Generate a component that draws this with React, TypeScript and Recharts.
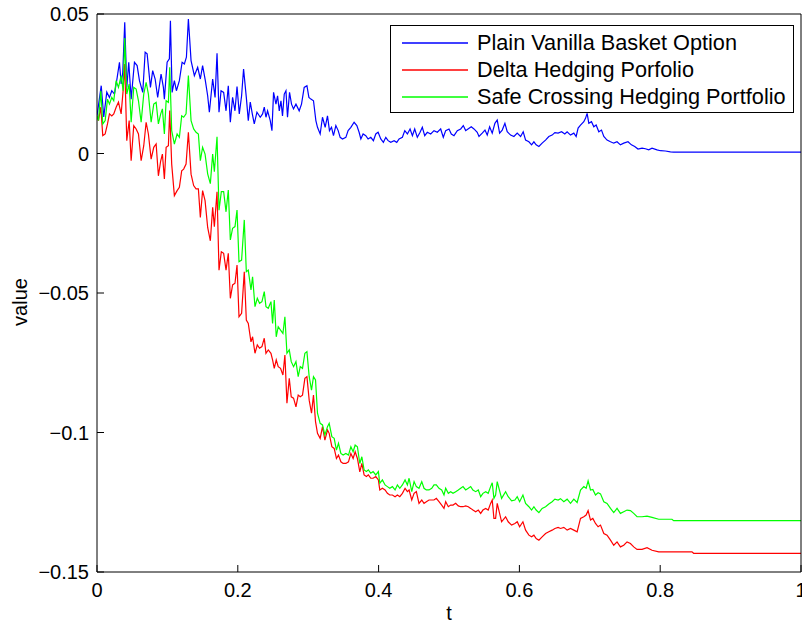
import React from 'react';
import { LineChart, Line, XAxis, YAxis, Label } from 'recharts';

const tTicks = [0, 0.2, 0.4, 0.6, 0.8, 1];
const valueTicks = [-0.15, -0.1, -0.05, 0, 0.05];

const seriesNames = ['Plain Vanilla Basket Option', 'Delta Hedging Porfolio', 'Safe Crossing Hedging Portfolio'];
const seriesColors = ['#0000ff', '#ff0000', '#00ff00'];

// basket option value along the path
const optionT = [
  0, 0.006, 0.0096, 0.0139, 0.0177, 0.021, 0.0248, 0.0287, 0.0319, 0.0343,
  0.0366, 0.0394, 0.0423, 0.0451, 0.0485, 0.0532, 0.057, 0.0603, 0.065, 0.0684,
  0.0712, 0.0759, 0.0791, 0.0826, 0.0862, 0.091, 0.0943, 0.0957, 0.0996, 0.1028,
  0.1043, 0.1067, 0.1099, 0.1128, 0.117, 0.1209, 0.1241, 0.127, 0.1298, 0.1336,
  0.1383, 0.143, 0.1468, 0.15, 0.1539, 0.1572, 0.1596, 0.1643, 0.1677, 0.1705,
  0.1733, 0.1762, 0.1799, 0.1833, 0.1865, 0.1894, 0.1926, 0.196, 0.1989, 0.2021,
  0.2054, 0.2082, 0.2121, 0.2149, 0.2177, 0.2206, 0.2234, 0.2272, 0.2319, 0.2352,
  0.2376, 0.24, 0.2423, 0.2461, 0.2485, 0.2508, 0.2542, 0.2565, 0.2589, 0.2613,
  0.2635, 0.266, 0.2684, 0.2706, 0.2735, 0.2763, 0.2791, 0.2826, 0.2872, 0.2905,
  0.2943, 0.2982, 0.301, 0.3038, 0.3075, 0.3109, 0.3132, 0.317, 0.3203, 0.3241,
  0.3274, 0.3302, 0.3331, 0.3359, 0.3393, 0.3426, 0.3454, 0.3487, 0.3535, 0.3567,
  0.3606, 0.3652, 0.3691, 0.3723, 0.3748, 0.378, 0.3818, 0.3851, 0.3889, 0.3926,
  0.396, 0.3993, 0.4031, 0.4068, 0.4102, 0.4135, 0.4173, 0.422, 0.4258, 0.4291,
  0.4338, 0.4372, 0.4409, 0.4447, 0.448, 0.4513, 0.455, 0.4589, 0.4621, 0.4655,
  0.4692, 0.474, 0.4787, 0.4834, 0.4882, 0.4919, 0.4953, 0.5, 0.5033, 0.5071,
  0.5118, 0.5166, 0.5203, 0.5237, 0.527, 0.5316, 0.5355, 0.5401, 0.5426, 0.5472,
  0.5511, 0.5543, 0.5577, 0.5614, 0.5652, 0.5685, 0.5719, 0.5756, 0.5794, 0.5827,
  0.5875, 0.5922, 0.5969, 0.6017, 0.6054, 0.6088, 0.6135, 0.6173, 0.6206, 0.6238,
  0.6277, 0.6323, 0.6371, 0.6418, 0.6465, 0.6504, 0.655, 0.6599, 0.6645, 0.6678,
  0.6726, 0.6773, 0.6806, 0.6834, 0.6868, 0.6915, 0.6939, 0.6962, 0.6986, 0.7024,
  0.7057, 0.709, 0.7128, 0.7166, 0.7199, 0.7245, 0.7294, 0.734, 0.7387, 0.7435,
  0.7482, 0.7543, 0.7591, 0.7638, 0.7685, 0.7742, 0.779, 0.7837, 0.7884, 0.7955,
  0.8003, 0.8074, 0.8145, 0.8191, 1,
];
const optionV = [
  0.0135, 0.0243, 0.0131, 0.022, 0.0201, 0.0225, 0.0213, 0.0273, 0.0327, 0.0249,
  0.0291, 0.047, 0.0237, 0.0327, 0.0195, 0.0327, 0.0315, 0.0261, 0.0219, 0.0363,
  0.0357, 0.0237, 0.0297, 0.0267, 0.0201, 0.0285, 0.0237, 0.0195, 0.0327, 0.0339,
  0.0476, 0.0219, 0.0261, 0.0225, 0.0261, 0.0327, 0.0321, 0.0345, 0.0482, 0.0333,
  0.0279, 0.0309, 0.0267, 0.0315, 0.0261, 0.0207, 0.0148, 0.0267, 0.0201, 0.0359,
  0.0148, 0.0225, 0.0219, 0.0153, 0.0243, 0.0112, 0.0201, 0.0153, 0.024, 0.0142,
  0.0207, 0.0303, 0.0201, 0.0118, 0.0184, 0.0142, 0.0106, 0.0148, 0.013, 0.0142,
  0.0166, 0.013, 0.0153, 0.0118, 0.0082, 0.0219, 0.0177, 0.0207, 0.0153, 0.0189,
  0.0135, 0.0213, 0.0225, 0.013, 0.0219, 0.0177, 0.016, 0.0177, 0.0153, 0.0177,
  0.0237, 0.0243, 0.0201, 0.0195, 0.0189, 0.0118, 0.0094, 0.007, 0.013, 0.0094,
  0.0135, 0.0082, 0.0094, 0.0064, 0.01, 0.0082, 0.0058, 0.0052, 0.0058, 0.0082,
  0.0094, 0.0112, 0.01, 0.0076, 0.0052, 0.007, 0.0064, 0.0052, 0.0058, 0.0046,
  0.007, 0.0076, 0.0052, 0.004, 0.0058, 0.0046, 0.004, 0.0046, 0.004, 0.0052,
  0.0058, 0.0082, 0.007, 0.0088, 0.0064, 0.0088, 0.0058, 0.0076, 0.0094, 0.0064,
  0.0076, 0.007, 0.0082, 0.0076, 0.0088, 0.0058, 0.0082, 0.0088, 0.007, 0.0064,
  0.0082, 0.0088, 0.01, 0.0082, 0.0088, 0.0096, 0.0088, 0.0076, 0.0061, 0.0073,
  0.0084, 0.0066, 0.0096, 0.0073, 0.0108, 0.012, 0.0073, 0.0084, 0.0108, 0.0078,
  0.0066, 0.0061, 0.0073, 0.0061, 0.0078, 0.0048, 0.0042, 0.0031, 0.0042, 0.0031,
  0.0025, 0.0037, 0.0048, 0.0061, 0.0066, 0.0075, 0.0073, 0.0078, 0.007, 0.0078,
  0.0066, 0.0073, 0.0061, 0.0091, 0.0102, 0.0114, 0.0126, 0.0144, 0.0108, 0.0114,
  0.0096, 0.0102, 0.0078, 0.0084, 0.0061, 0.0048, 0.0042, 0.0037, 0.0042, 0.0031,
  0.0037, 0.0042, 0.0031, 0.0025, 0.0016, 0.0019, 0.0017, 0.0013, 0.0019, 0.0013,
  0.001, 0.0009, 0.0006, 0.0005, 0.0005,
];

// both hedging portfolios are sampled on the same dates
const hedgeT = [
  0, 0.0021, 0.0054, 0.0082, 0.0116, 0.0149, 0.0177, 0.021, 0.0238, 0.0272,
  0.0305, 0.0343, 0.0371, 0.0394, 0.0423, 0.0457, 0.0485, 0.0522, 0.0556, 0.0589,
  0.0627, 0.0664, 0.0698, 0.073, 0.0769, 0.0806, 0.084, 0.0872, 0.0905, 0.0929,
  0.0957, 0.0982, 0.1014, 0.1033, 0.1061, 0.1099, 0.1138, 0.117, 0.1203, 0.1231,
  0.1265, 0.1298, 0.1336, 0.1373, 0.1407, 0.144, 0.1468, 0.15, 0.1535, 0.1572,
  0.161, 0.1643, 0.1667, 0.1705, 0.1733, 0.1766, 0.1799, 0.1833, 0.1865, 0.1894,
  0.1926, 0.196, 0.1989, 0.2017, 0.2054, 0.2092, 0.2121, 0.2149, 0.2187, 0.221,
  0.2244, 0.2277, 0.2309, 0.2343, 0.2376, 0.24, 0.2433, 0.2471, 0.2494, 0.2518,
  0.2546, 0.2574, 0.2607, 0.2641, 0.2669, 0.2698, 0.2731, 0.2759, 0.2792, 0.2826,
  0.2858, 0.2887, 0.2919, 0.2953, 0.2982, 0.3014, 0.3047, 0.3075, 0.3104, 0.3132,
  0.317, 0.3203, 0.3237, 0.3274, 0.3298, 0.3336, 0.3369, 0.3401, 0.343, 0.3464,
  0.3496, 0.3535, 0.3572, 0.3606, 0.3638, 0.3667, 0.3699, 0.3733, 0.3762, 0.3794,
  0.3827, 0.3855, 0.3889, 0.3922, 0.396, 0.3997, 0.4017, 0.4054, 0.4092, 0.4125,
  0.4159, 0.4196, 0.4234, 0.4267, 0.4301, 0.4338, 0.4376, 0.4409, 0.4433, 0.4471,
  0.4504, 0.4536, 0.4574, 0.4613, 0.4645, 0.4678, 0.4716, 0.4755, 0.4787, 0.482,
  0.4858, 0.4896, 0.4929, 0.4953, 0.499, 0.5024, 0.5057, 0.5095, 0.5132, 0.5166,
  0.5199, 0.5237, 0.5274, 0.5308, 0.534, 0.5379, 0.5416, 0.545, 0.5482, 0.5521,
  0.5557, 0.5591, 0.5614, 0.5638, 0.5662, 0.5685, 0.5747, 0.5804, 0.5841, 0.5889,
  0.5936, 0.5969, 0.6003, 0.605, 0.6088, 0.6135, 0.6173, 0.6206, 0.6238, 0.6277,
  0.6323, 0.6372, 0.6418, 0.6465, 0.6504, 0.655, 0.6584, 0.6631, 0.6678, 0.6726,
  0.6773, 0.682, 0.6868, 0.6915, 0.6948, 0.6976, 0.701, 0.7043, 0.7081, 0.7118,
  0.7152, 0.7199, 0.7245, 0.7294, 0.734, 0.7387, 0.7435, 0.7482, 0.7529, 0.7577,
  0.7624, 0.7671, 0.7742, 0.7813, 0.7884, 0.7979, 0.8074, 0.8167, 0.8191, 0.8451,
  0.8475, 1,
];
const deltaV = [
  0.0135, 0.0118, 0.0166, 0.0064, 0.007, 0.0106, 0.0142, 0.0135, 0.0142, 0.0166,
  0.0184, 0.0142, 0.0225, 0.0321, 0.0046, 0.0118, -0.0026, 0.01, 0.0088, 0.007,
  -0.0026, 0.0028, 0.0112, 0.007, -0.002, 0.0022, 0.0034, -0.008, -0.0026, -0.0002,
  -0.0091, 0.0022, 0.0028, 0.0154, -0.0038, -0.0151, -0.0133, -0.0121, -0.0062, -0.0056,
  -0.0038, 0.0076, -0.0074, -0.0115, -0.0127, -0.0127, -0.0229, -0.0133, -0.0169, -0.0265,
  -0.0313, -0.0193, -0.0262, -0.0137, -0.0418, -0.0352, -0.0358, -0.0418, -0.0358, -0.0519,
  -0.0471, -0.0465, -0.04, -0.0585, -0.0573, -0.0424, -0.0597, -0.0609, -0.0675, -0.0657,
  -0.0716, -0.0686, -0.0698, -0.0692, -0.0662, -0.0716, -0.0704, -0.0716, -0.074, -0.077,
  -0.074, -0.0764, -0.077, -0.0794, -0.0722, -0.0895, -0.0806, -0.0872, -0.0877, -0.0908,
  -0.0866, -0.0872, -0.0866, -0.0806, -0.08, -0.0884, -0.0931, -0.0866, -0.0961, -0.1003,
  -0.1021, -0.0979, -0.1027, -0.0991, -0.1003, -0.1051, -0.1057, -0.1093, -0.1081, -0.1105,
  -0.1111, -0.1111, -0.1105, -0.1075, -0.1093, -0.1069, -0.1093, -0.1141, -0.1111, -0.1152,
  -0.1158, -0.1152, -0.1164, -0.1164, -0.1158, -0.117, -0.1206, -0.12, -0.1206, -0.1218,
  -0.1224, -0.1224, -0.123, -0.1224, -0.123, -0.1218, -0.12, -0.1212, -0.1206, -0.1242,
  -0.1218, -0.1212, -0.1254, -0.1242, -0.1254, -0.1248, -0.1242, -0.1242, -0.1242, -0.1236,
  -0.1248, -0.126, -0.1272, -0.1248, -0.1266, -0.126, -0.126, -0.1254, -0.1263, -0.1266,
  -0.1266, -0.1263, -0.1266, -0.1272, -0.1278, -0.1284, -0.1278, -0.129, -0.1278, -0.1272,
  -0.1278, -0.1254, -0.1242, -0.1308, -0.1308, -0.1254, -0.132, -0.1302, -0.132, -0.1332,
  -0.1326, -0.132, -0.1338, -0.132, -0.135, -0.1368, -0.1374, -0.1368, -0.138, -0.1386,
  -0.1374, -0.1362, -0.1356, -0.135, -0.1344, -0.134, -0.1344, -0.134, -0.135, -0.1344,
  -0.135, -0.1356, -0.1308, -0.1302, -0.1296, -0.128, -0.1314, -0.1308, -0.1326, -0.1338,
  -0.1332, -0.1362, -0.1368, -0.1386, -0.1404, -0.1392, -0.141, -0.1404, -0.1392, -0.1398,
  -0.141, -0.1419, -0.1419, -0.1413, -0.1422, -0.1428, -0.1428, -0.1428, -0.1428, -0.1428,
  -0.1433, -0.1433,
];
const safeV = [
  0.0135, 0.0118, 0.0225, 0.0106, 0.0118, 0.0195, 0.0177, 0.0201, 0.0189, 0.0261,
  0.0237, 0.0279, 0.0225, 0.0414, 0.0213, 0.0249, 0.0112, 0.0237, 0.0231, 0.0189,
  0.0112, 0.0213, 0.0255, 0.0213, 0.0112, 0.0177, 0.0183, 0.0106, 0.0142, 0.016,
  0.007, 0.0189, 0.0183, 0.0309, 0.0082, 0.0034, 0.007, 0.0058, 0.0135, 0.013,
  0.0142, 0.0279, 0.0118, 0.0088, 0.0076, 0.007, -0.0026, 0.0022, -0.0002, -0.0073,
  -0.0108, -0.0002, -0.0065, 0.006, -0.0203, -0.0137, -0.0137, -0.0209, -0.0131, -0.031,
  -0.0268, -0.0262, -0.0203, -0.0388, -0.0382, -0.0238, -0.0424, -0.0418, -0.0489, -0.0442,
  -0.0549, -0.0519, -0.0537, -0.0531, -0.0495, -0.0549, -0.0555, -0.0531, -0.0609, -0.0525,
  -0.0657, -0.0621, -0.0633, -0.0645, -0.0585, -0.0716, -0.0704, -0.0746, -0.0764, -0.0746,
  -0.08, -0.0764, -0.077, -0.0716, -0.071, -0.08, -0.0848, -0.08, -0.0812, -0.0931,
  -0.0967, -0.0973, -0.1009, -0.0979, -0.0967, -0.1015, -0.1021, -0.1063, -0.1039, -0.1075,
  -0.1081, -0.1075, -0.1081, -0.1051, -0.1069, -0.1045, -0.1051, -0.1111, -0.1087, -0.1134,
  -0.114, -0.1134, -0.1146, -0.114, -0.1152, -0.114, -0.1182, -0.117, -0.1188, -0.1194,
  -0.12, -0.1194, -0.1206, -0.1188, -0.12, -0.1188, -0.117, -0.1188, -0.1164, -0.1212,
  -0.1176, -0.1194, -0.12, -0.1176, -0.12, -0.1206, -0.1206, -0.12, -0.1188, -0.1188,
  -0.12, -0.1206, -0.1224, -0.12, -0.1218, -0.1212, -0.1218, -0.1212, -0.1206, -0.12,
  -0.1194, -0.1206, -0.12, -0.1194, -0.1206, -0.1212, -0.1206, -0.123, -0.1218, -0.1212,
  -0.1218, -0.1194, -0.118, -0.1236, -0.1224, -0.1176, -0.1236, -0.1212, -0.123, -0.1245,
  -0.1242, -0.123, -0.1248, -0.1224, -0.1254, -0.1266, -0.1278, -0.1266, -0.1278, -0.1287,
  -0.1272, -0.1266, -0.1256, -0.1248, -0.1239, -0.1242, -0.1237, -0.1248, -0.1239, -0.1254,
  -0.1239, -0.1251, -0.1206, -0.1194, -0.12, -0.1173, -0.1206, -0.1204, -0.1224, -0.1216,
  -0.122, -0.1248, -0.1254, -0.1272, -0.1287, -0.1272, -0.129, -0.1284, -0.1278, -0.128,
  -0.129, -0.1302, -0.1302, -0.13, -0.1304, -0.1311, -0.1311, -0.1311, -0.1316, -0.1316,
  -0.1316, -0.1316,
];

const toPoints = (ts: number[], vs: number[]) => ts.map((t, i) => ({ t, v: vs[i] }));

const series = [
  { name: seriesNames[0], color: seriesColors[0], data: toPoints(optionT, optionV) },
  { name: seriesNames[1], color: seriesColors[1], data: toPoints(hedgeT, deltaV) },
  { name: seriesNames[2], color: seriesColors[2], data: toPoints(hedgeT, safeV) },
];

const FONT = '"Liberation Sans", Arial, Helvetica, sans-serif';
const tickFont = { fill: '#000', fontSize: 20, fontFamily: FONT };
const axisStroke = { stroke: '#000', strokeWidth: 1 };

const fmtValue = (v: number) => (v < 0 ? '\u2212' + String(-v) : String(v));

// mirrored axes on the top and right only carry tick marks
const noLabel = () => <g />;

const ValueTitle = () => (
  <text
    x={20}
    y={302}
    transform="rotate(-90 20 302)"
    textAnchor="middle"
    dominantBaseline="central"
    fill="#000"
    fontSize={20}
    fontFamily={FONT}
  >
    value
  </text>
);

const LegendBox = () => (
  <div
    style={{
      position: 'absolute',
      left: 390,
      top: 25,
      width: 402,
      height: 86,
      border: '1px solid #000',
      background: '#fff',
      fontFamily: FONT,
      fontSize: 21.7,
      color: '#000',
    }}
  >
    {series.map((s, i) => (
      <div
        key={s.name}
        style={{
          position: 'absolute',
          left: 11,
          top: 3 + i * 27,
          height: 27,
          display: 'flex',
          alignItems: 'center',
          whiteSpace: 'nowrap',
        }}
      >
        <svg width={66} height={4} style={{ marginRight: 9, display: 'block' }}>
          <line x1={0} y1={2} x2={66} y2={2} stroke={s.color} strokeWidth={1.3} />
        </svg>
        <span>{s.name}</span>
      </div>
    ))}
  </div>
);

export default function App() {
  return (
    <div style={{ position: 'absolute', left: 0, top: 0, width: 802, height: 628, background: '#fff' }}>
      <LineChart width={802} height={628} margin={{ top: 13, right: 0, bottom: 0, left: 0 }}>
        <XAxis
          dataKey="t"
          type="number"
          domain={[0, 1]}
          ticks={tTicks}
          interval={0}
          height={56}
          allowDataOverflow
          tickSize={-7}
          tickMargin={18}
          tick={tickFont}
          axisLine={axisStroke}
          tickLine={axisStroke}
        >
          <Label value="t" position="insideBottom" offset={8} fill="#000" fontSize={20} fontFamily={FONT} />
        </XAxis>
        <XAxis
          xAxisId="top"
          orientation="top"
          type="number"
          domain={[0, 1]}
          ticks={tTicks}
          interval={0}
          height={1}
          tickSize={-7}
          tick={noLabel}
          axisLine={axisStroke}
          tickLine={axisStroke}
        />
        <YAxis
          type="number"
          domain={[-0.15, 0.05]}
          ticks={valueTicks}
          interval={0}
          width={97}
          allowDataOverflow
          tickSize={-7}
          tickMargin={15}
          tick={tickFont}
          tickFormatter={fmtValue}
          axisLine={axisStroke}
          tickLine={axisStroke}
        >
          <Label content={ValueTitle} />
        </YAxis>
        <YAxis
          yAxisId="right"
          orientation="right"
          type="number"
          domain={[-0.15, 0.05]}
          ticks={valueTicks}
          interval={0}
          width={1}
          tickSize={-7}
          tick={noLabel}
          axisLine={axisStroke}
          tickLine={axisStroke}
        />
        {series.map((s) => (
          <Line
            key={s.name}
            name={s.name}
            data={s.data}
            dataKey="v"
            type="linear"
            stroke={s.color}
            strokeWidth={1.2}
            dot={false}
            activeDot={false}
            isAnimationActive={false}
          />
        ))}
      </LineChart>
      <LegendBox />
    </div>
  );
}
